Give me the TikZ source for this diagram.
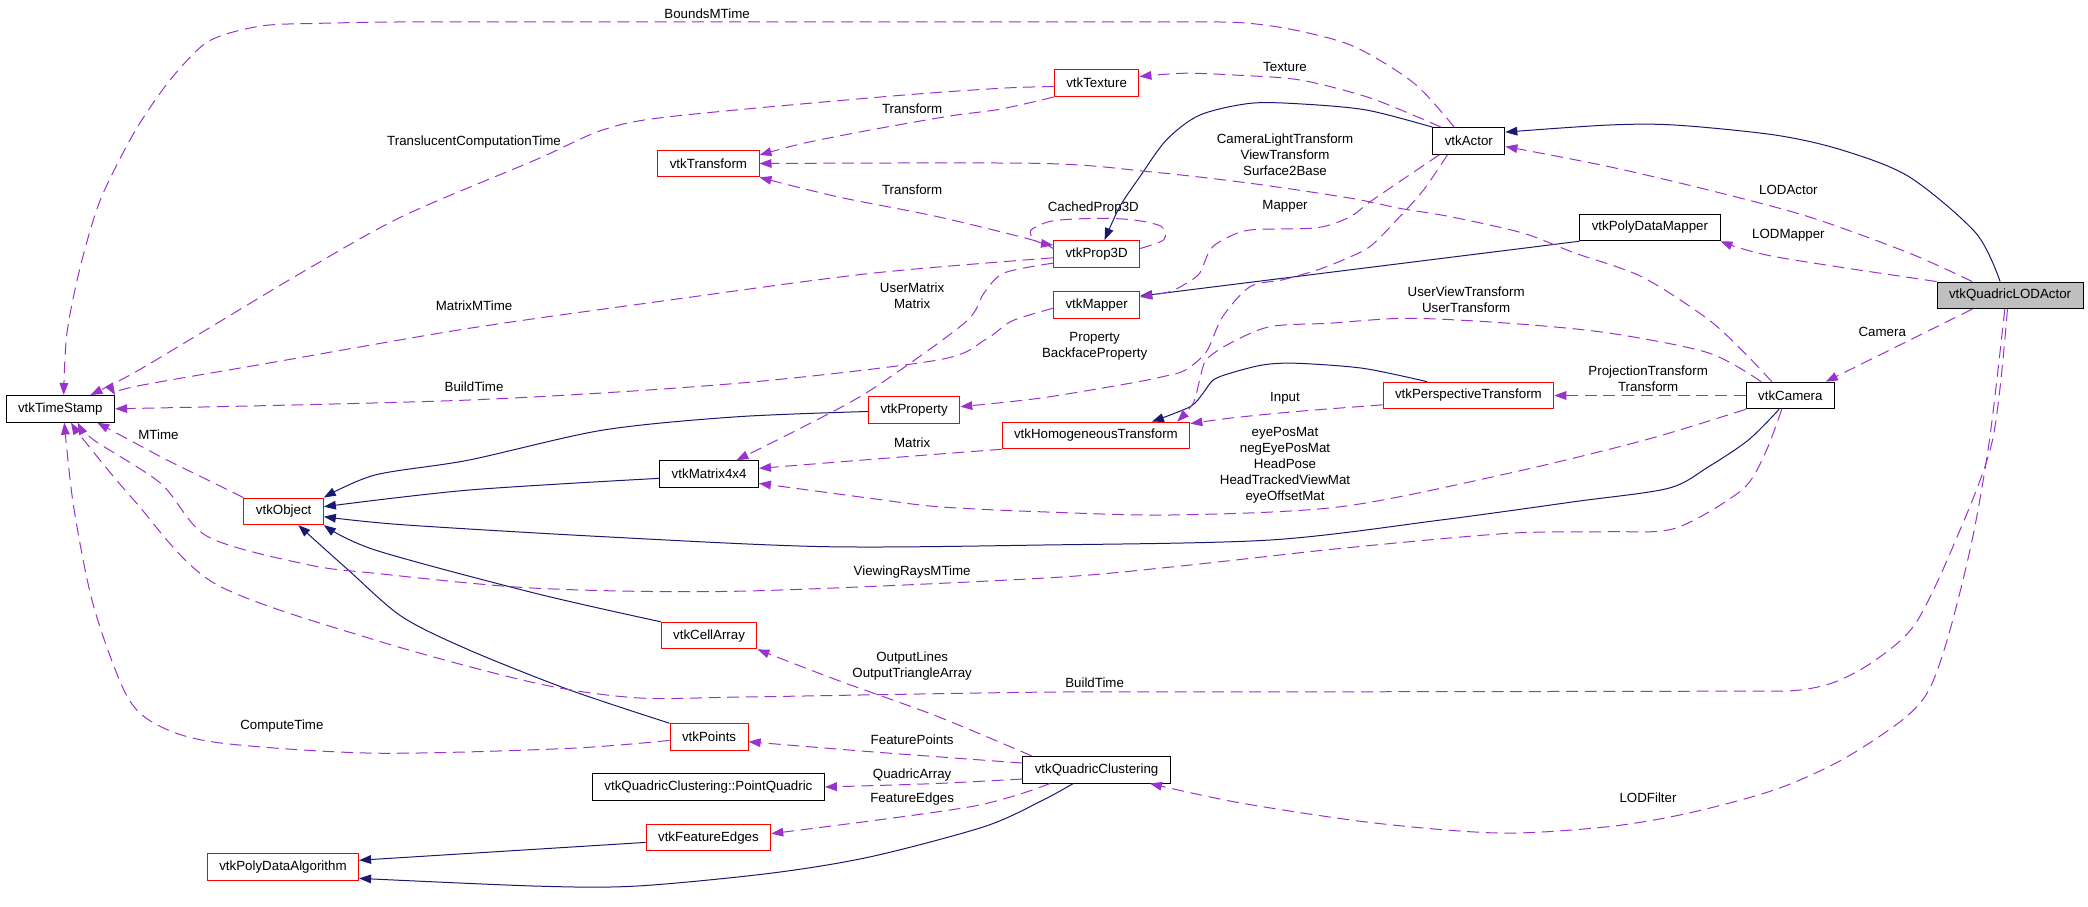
\documentclass[tikz,border=0pt]{standalone}
\usepackage{fontspec}
\setmainfont{Liberation Sans}
\usepackage{tikz}
\usetikzlibrary{arrows.meta}

\definecolor{usecol}{RGB}{154,50,205}
\definecolor{inhcol}{RGB}{25,25,112}
\definecolor{nodegrey}{RGB}{191,191,191}

\begin{document}
\begin{tikzpicture}[x=1pt,y=-1pt,
  cls/.style={rectangle,draw=black,line width=0.75pt,minimum height=20pt,inner xsep=9pt,inner ysep=0pt,font=\fontsize{10}{12}\selectfont},
  trunc/.style={cls,draw=red},
  lbl/.style={inner sep=0pt,align=center,font=\fontsize{10}{12}\selectfont},
  usage/.style={draw=usecol,line width=0.75pt,dash pattern=on 9pt off 5pt,-{Triangle[length=9pt,width=6.5pt]}},
  inherit/.style={draw=inhcol,line width=0.75pt,-{Triangle[length=9pt,width=6.5pt]}}]
\useasboundingbox (0,0) rectangle (1568,681);

% classes
\node at (45.3,307)[cls](ts){vtkTimeStamp};
\node at (823.5,62.5)[trunc](texture){vtkTexture};
\node at (532,122.8)[trunc](transform){vtkTransform};
\node at (1103,105.8)[cls](actor){vtkActor};
\node at (1239,170.8)[cls](pdm){vtkPolyDataMapper};
\node at (823.5,190.6)[trunc](prop){vtkProp3D};
\node at (823.5,229)[trunc](mapper){vtkMapper};
\node at (1509.5,221.8)[cls,fill=nodegrey](qlod){vtkQuadricLODActor};
\node at (686.5,308)[trunc](property){vtkProperty};
\node at (823,327)[trunc](homog){vtkHomogeneousTransform};
\node at (1102.7,297)[trunc](persp){vtkPerspectiveTransform};
\node at (1344.5,297)[cls](camera){vtkCamera};
\node at (532.5,356)[cls](matrix){vtkMatrix4x4};
\node at (213,384)[trunc](object){vtkObject};
\node at (532.5,477.3)[trunc](cells){vtkCellArray};
\node at (532.5,553.5)[trunc](points){vtkPoints};
\node at (532,591)[cls](pquad){vtkQuadricClustering::PointQuadric};
\node at (532,629)[trunc](fedges){vtkFeatureEdges};
\node at (212.5,651)[trunc](pda){vtkPolyDataAlgorithm};
\node at (823.5,578)[cls](qc){vtkQuadricClustering};

% member labels
\node at (531,10)[lbl](lbounds){BoundsMTime};
\node at (965,50)[lbl](ltexture){Texture};
\node at (685,82)[lbl](ltransa){Transform};
\node at (356,106.4)[lbl](ltransl){TranslucentComputationTime};
\node at (965,116)[lbl](lcamlight){CameraLightTransform\\ViewTransform\\Surface2Base};
\node at (685,142.5)[lbl](ltransb){Transform};
\node at (1343,142.5)[lbl](llodactor){LODActor};
\node at (821,156)[lbl](lcached){CachedProp3D};
\node at (965,155)[lbl](lmapper){Mapper};
\node at (1343,176.5)[lbl](llodmapper){LODMapper};
\node at (685,222)[lbl](lusermat){UserMatrix\\Matrix};
\node at (356,229.6)[lbl](lmatmtime){MatrixMTime};
\node at (1101,225)[lbl](luserview){UserViewTransform\\UserTransform};
\node at (1413.5,249)[lbl](lcamera){Camera};
\node at (822,260)[lbl](lproperty){Property\\BackfaceProperty};
\node at (1237.7,284.4)[lbl](lproj){ProjectionTransform\\Transform};
\node at (356,290.4)[lbl](lbuilda){BuildTime};
\node at (965,299.4)[lbl](linput){Input};
\node at (965,349.5)[lbl](leye){eyePosMat\\negEyePosMat\\HeadPose\\HeadTrackedViewMat\\eyeOffsetMat};
\node at (119,326.7)[lbl](lmtime){MTime};
\node at (685,332.4)[lbl](lmatrix){Matrix};
\node at (685,429.6)[lbl](lrays){ViewingRaysMTime};
\node at (685,500)[lbl](loutput){OutputLines\\OutputTriangleArray};
\node at (822,512.7)[lbl](lbuildb){BuildTime};
\node at (211.7,545)[lbl](lcompute){ComputeTime};
\node at (685,555.5)[lbl](lfpoints){FeaturePoints};
\node at (685,582)[lbl](lquadric){QuadricArray};
\node at (1237.6,599)[lbl](llodfilter){LODFilter};
\node at (685,600)[lbl](lfedges){FeatureEdges};

% inheritance
\draw[inherit] plot[smooth] coordinates {([xshift=-7.5pt]qlod.north) (1483.8,175) (1433.6,132.7) (1383,112.6) (1333,101.4) (1258,93.9) (1207.6,93.9) ([yshift=6.6pt]actor.east)};
\draw[inherit] plot[smooth] coordinates {(actor.north west) (1026,82.6) (976,78) (938.7,77.6) (901,86.4) (876,105) (856,132.7) (841,155) ([xshift=6pt]prop.north)};
\draw[inherit] (pdm.south west) -- ([yshift=6.7pt]mapper.east);
\draw[inherit] plot[smooth] coordinates {([xshift=-31pt]persp.north) (1023.7,276.6) (973.8,272.8) (948.6,274) (923.7,280.3) (911,285.4) (903.6,295) (893.7,305.4) ([xshift=42pt]homog.north)};
\draw[inherit] plot[smooth] coordinates {([xshift=-8.5pt]camera.south) (1313,330.4) (1283,350.5) (1252.8,366.7) (1182.6,376.7) (1082,390.5) (954,405.5) (781,409.3) (618.5,410.5) (452.6,403) (301.7,394) ([yshift=-4pt]object.east)};
\draw[inherit] plot[smooth] coordinates {([yshift=-3.2pt]matrix.west) (352,368) ([yshift=3.5pt]object.east)};
\draw[inherit] plot[smooth] coordinates {([yshift=-1pt]property.west) (553,313) (452.6,323) (352,345.5) (281.6,356.7) (object.north east)};
\draw[inherit] plot[smooth] coordinates {(cells.north west) (402.3,445.6) (281.6,413) (object.south east)};
\draw[inherit] plot[smooth] coordinates {(points.north west) (427.4,518) (352,488) (301.7,463) (261.5,428) ([xshift=11pt]object.south)};
\draw[inherit] ([yshift=-3.6pt]fedges.west) -- ([yshift=5pt]pda.east);
\draw[inherit] plot[smooth] coordinates {([xshift=-17.5pt]qc.south) (781,602) (739,620.8) (653.7,643.4) (578.3,655.8) (477.7,665.4) (402.3,665.4) ([yshift=-8.6pt]pda.east)};

% members
\draw[usage] plot[smooth] coordinates {([xshift=-11pt]actor.north) (1062,62.6) (1017,35) (972,22.5) (931.6,17) (880,16.5) (800,16.5) (700,16.5) (600,16.5) (500,16.5) (400,16.5) (300,16.5) (240,17.5) (200,19) (170,25.5) (151,35) (125.7,62.6) (100.5,100) (75.4,150) (60.4,200) (50.3,250) ([xshift=2.5pt]ts.north)};
\draw[usage] plot[smooth] coordinates {([xshift=-21pt]actor.north) (1064,87.6) (1026,72.6) (976,60) (926,56.3) (888.6,55) ([yshift=5pt]texture.east)};
\draw[usage] plot[smooth] coordinates {(texture.south west) (751,82) (714,87) (653.7,97.6) (603.4,107.6) ([yshift=6.4pt]transform.east)};
\draw[usage] plot[smooth] coordinates {([yshift=-2.5pt]texture.west) (751,66.3) (664,72.6) (503,87.6) (452.6,97.6) (402.3,120) (301.7,162.7) (226,205) (151,250) (100.6,280) ([xshift=22.6pt]ts.north)};
\draw[usage] plot[smooth] coordinates {([yshift=4pt]prop.west) (774.5,180) (704,162.7) (628.6,147.7) (transform.south east)};
\draw[usage] plot[smooth] coordinates {([xshift=-14pt]camera.north) (1313,268) (1283,240) (1232.8,207.8) (1182.6,190) (1143.5,175) (1089,162.7) (1051,156.4) (1014,148.8) (938.7,137.6) (863.6,129) (781,122.7) (transform.east)};
\draw[usage] plot[smooth] coordinates {([yshift=4pt]prop.east) (874,180) (872,170) (850,165) (821,164) (790,166) (774,173) (778,181) ([yshift=6.5pt]prop.west)};
\draw[usage] plot[smooth] coordinates {([yshift=-3pt]prop.west) (653.7,205.3) (502.9,225.3) (352,246.6) (201,272.8) (100.6,290.4) (ts.north east)};
\draw[usage] plot[smooth] coordinates {([yshift=-7pt]prop.west) (754,205) (739,220) (724,242.8) (653.7,293) (603.4,320.4) ([xshift=20.5pt]matrix.north)};
\draw[usage] plot[smooth] coordinates {([xshift=-22pt]actor.south) (1031,150) (1014,162.7) (989,171) (938.7,172.7) (918.7,180) (908.7,187.7) (901,205) (892,212) (878.6,219) ([yshift=6pt]mapper.east)};
\draw[usage] plot[smooth] coordinates {([xshift=-16pt]actor.south) (1069,142.7) (1049,165) (1029,185) (1009,195) (989,202.8) (963.8,210) (938.7,215.3) (918,238) (906,264) (890,278) (873.4,282.8) (848.6,287.8) (781,299) ([yshift=2.6pt]property.east)};
\draw[usage] plot[smooth] coordinates {([xshift=-22pt]camera.north) (1283,265) (1207.6,250) (1132.6,242.7) (1057,239) (998.8,242.7) (953.7,245.3) (923.7,257.8) (906,270) (901,285) (896,302.8) ([xshift=61pt]homog.north)};
\draw[usage] plot[smooth] coordinates {([yshift=-7pt]persp.west) (973.8,309) (923.7,314) ([yshift=-1.5pt]homog.north east)};
\draw[usage] (camera.west) -- (persp.east);
\draw[usage] plot[smooth] coordinates {([xshift=-28.5pt]qlod.north) (1433.6,190) (1358,162.7) (1283,142.7) (1207.6,125) ([yshift=-4.2pt]actor.east)};
\draw[usage] plot[smooth] coordinates {(qlod.north west) (1333,192.8) (pdm.south east)};
\draw[usage] ([xshift=-28.5pt]qlod.south) -- ([xshift=-7pt]camera.north east);
\draw[usage] plot[smooth] coordinates {([xshift=-2pt]qlod.south) (1496.3,330.4) (1468.7,405.5) (1438.6,468) (1408.5,495.6) (1378.4,512) (1348.2,518.5) (1300,519) (1200,519.2) (1100,519.4) (1000,519.5) (900,519.6) (788.5,519.7) (670,521.5) (553,523.5) (477.7,524) (402.3,513) (281.6,480.6) (161,438) (100.5,375.5) (62.9,330.4) ([xshift=8pt]ts.south)};
\draw[usage] plot[smooth] coordinates {([xshift=-4pt]qlod.south) (1494,330.4) (1481,405.5) (1463.7,475.5) (1448.6,518) (1428.5,540.7) (1383,570.7) (1333,593) (1267.6,610.7) (1207.6,620.8) (1127,625.6) (1032,618) (931.6,603) ([xshift=40pt]qc.south)};
\draw[usage] plot[smooth] coordinates {([xshift=-6.5pt]camera.south) (1325.5,340.4) (1308,368) (1258,396.7) (1207.6,399.3) (1132.6,400.5) (1007,411.8) (881.4,425.6) (781,434.3) (553,444) (402,441.7) (281.6,430.5) (231,424) (156,403) (120.7,363) (70.4,330.4) ([xshift=13pt]ts.south)};
\draw[usage] plot[smooth] coordinates {(camera.south west) (1235.4,330.4) (1132.6,355.5) (1007,380.5) (881.4,386.7) (781,384.3) (704,380.5) (653.7,374.2) ([yshift=-7pt]matrix.east)};
\draw[usage] plot[smooth] coordinates {(homog.south west) (679,343) ([yshift=4.3pt]matrix.east)};
\draw[usage] plot[smooth] coordinates {([yshift=-2.5pt]mapper.west) (760,241) (740,255) (704,270.4) (553,287.9) (352,300.4) (ts.east)};
\draw[usage] plot[smooth] coordinates {(object.north west) (151,358) (120.7,343) ([xshift=27.7pt]ts.south)};
\draw[usage] plot[smooth] coordinates {([yshift=-2.5pt]points.west) (427,562) (281.6,565.6) (166,558) (120.7,545.7) (95.5,523) (70.4,455.6) (55.3,380.5) ([xshift=3pt]ts.south)};
\draw[usage] plot[smooth] coordinates {([xshift=7pt]qc.north west) (704,538) (628.6,510.7) (cells.south east)};
\draw[usage] plot[smooth] coordinates {([yshift=5pt]qc.west) (653.7,564.5) ([yshift=-3.5pt]points.east)};
\draw[usage] plot[smooth] coordinates {([yshift=-7pt]qc.west) (700,588.5) (pquad.east)};
\draw[usage] plot[smooth] coordinates {([xshift=-35pt]qc.south) (729,605.8) ([yshift=3pt]fedges.east)};
\end{tikzpicture}
\end{document}
